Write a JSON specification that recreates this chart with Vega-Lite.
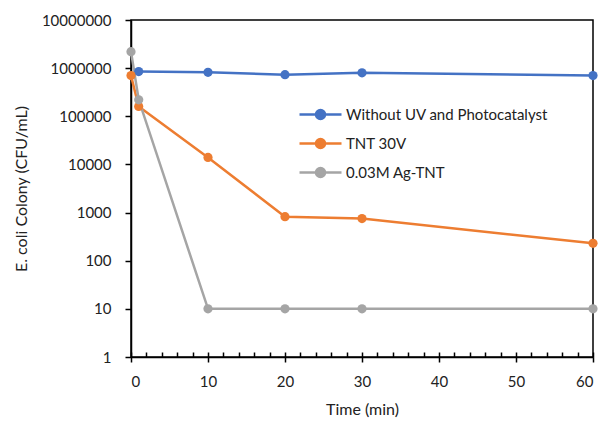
{
  "$schema": "https://vega.github.io/schema/vega-lite/v6.json",
  "width": 462,
  "height": 337,
  "autosize": {"type": "none"},
  "padding": {"left": 131, "top": 20, "right": 11, "bottom": 64},
  "background": "white",
  "config": {
    "view": {"stroke": "black", "strokeWidth": 1.5},
    "font": "Lato",
    "axis": {
      "domainColor": "black",
      "domainWidth": 1.5,
      "tickColor": "black",
      "tickWidth": 1.5,
      "grid": false,
      "labelFont": "Lato",
      "labelFontSize": 15,
      "labelColor": "#222222",
      "titleFont": "Lato",
      "titleFontSize": 16,
      "titleFontWeight": "normal",
      "titleColor": "#222222"
    }
  },
  "data": {
    "values": [
      {"series": "Without UV and Photocatalyst", "time": 1, "cfu": 850000},
      {"series": "Without UV and Photocatalyst", "time": 10, "cfu": 820000},
      {"series": "Without UV and Photocatalyst", "time": 20, "cfu": 730000},
      {"series": "Without UV and Photocatalyst", "time": 30, "cfu": 800000},
      {"series": "Without UV and Photocatalyst", "time": 60, "cfu": 700000},
      {"series": "TNT 30V", "time": 0, "cfu": 700000},
      {"series": "TNT 30V", "time": 1, "cfu": 160000},
      {"series": "TNT 30V", "time": 10, "cfu": 14000},
      {"series": "TNT 30V", "time": 20, "cfu": 820},
      {"series": "TNT 30V", "time": 30, "cfu": 750},
      {"series": "TNT 30V", "time": 60, "cfu": 230},
      {"series": "0.03M Ag-TNT", "time": 0, "cfu": 2200000},
      {"series": "0.03M Ag-TNT", "time": 1, "cfu": 220000},
      {"series": "0.03M Ag-TNT", "time": 10, "cfu": 10},
      {"series": "0.03M Ag-TNT", "time": 20, "cfu": 10},
      {"series": "0.03M Ag-TNT", "time": 30, "cfu": 10},
      {"series": "0.03M Ag-TNT", "time": 60, "cfu": 10}
    ]
  },
  "resolve": {"axis": {"x": "independent"}},
  "layer": [
    {
      "mark": {"type": "line", "opacity": 0},
      "encoding": {
        "x": {
          "field": "time", "type": "quantitative",
          "scale": {"domain": [0, 60], "nice": false},
          "axis": {"orient": "top", "offset": -337, "values": [0,2,4,6,8,10,12,14,16,18,20,22,24,26,28,30,32,34,36,38,40,42,44,46,48,50,52,54,56,58,60], "tickSize": 5, "labels": false, "title": null, "domain": false}
        },
        "y": {"field": "cfu", "type": "quantitative", "scale": {"type": "log", "domain": [1, 10000000]}}
      }
    },
    {
      "mark": {"type": "line", "strokeWidth": 2.5, "point": {"filled": true, "size": 85, "opacity": 1}},
      "encoding": {
        "x": {
          "field": "time", "type": "quantitative",
          "scale": {"domain": [0, 60], "nice": false},
          "axis": {"orient": "bottom", "values": [0,10,20,30,40,50,60], "tickSize": 5, "labelPadding": 12, "title": "Time (min)", "titlePadding": 12}
        },
        "y": {
          "field": "cfu", "type": "quantitative",
          "scale": {"type": "log", "domain": [1, 10000000]},
          "axis": {"values": [1,10,100,1000,10000,100000,1000000,10000000], "format": "d", "tickSize": 6, "labelPadding": 14, "title": "E. coli Colony (CFU/mL)", "titlePadding": 12}
        },
        "color": {
          "field": "series", "type": "nominal", "sort": null,
          "scale": {"domain": ["Without UV and Photocatalyst", "TNT 30V", "0.03M Ag-TNT"], "range": ["#4472C4", "#ED7D31", "#A5A5A5"]},
          "legend": {
            "title": null,
            "orient": "none",
            "legendX": 182,
            "legendY": 87,
            "symbolType": "M-4.2,0L4.2,0M0.9,0A0.9,0.9,0,1,1,-0.9,0A0.9,0.9,0,1,1,0.9,0Z",
            "symbolSize": 100,
            "symbolStrokeWidth": 2.5,
            "labelFont": "Lato",
            "labelFontSize": 15,
            "labelColor": "#222222",
            "labelLimit": 400,
            "labelOffset": 18,
            "rowPadding": 10,
            "padding": 0
          }
        }
      }
    }
  ]
}
